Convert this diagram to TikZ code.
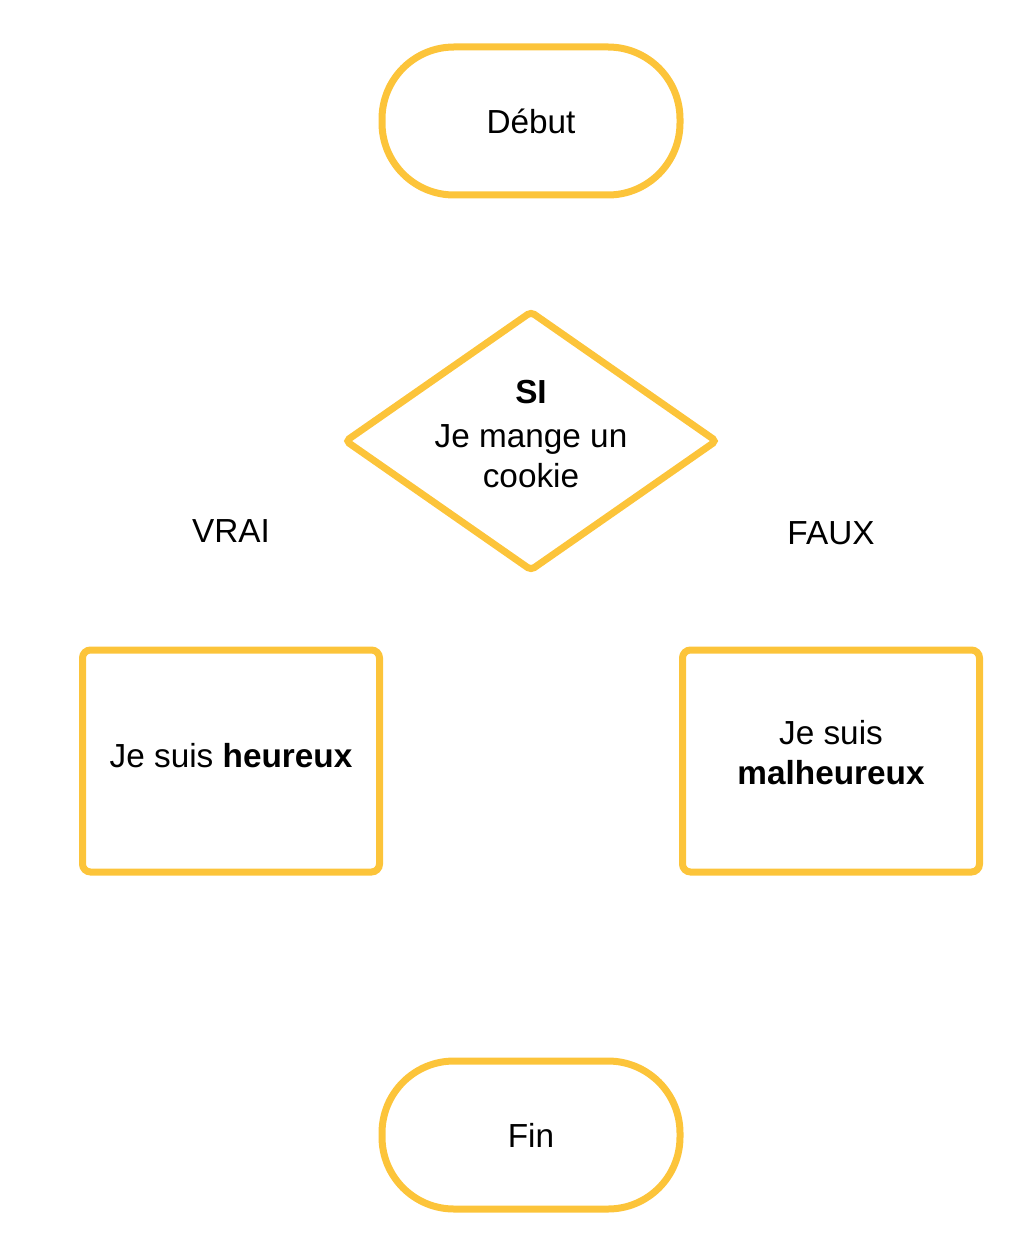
\documentclass[tikz,border=0pt]{standalone}
\usepackage{fontspec}
\setmainfont{Liberation Sans}
\usetikzlibrary{shapes}
\definecolor{cookie}{RGB}{252,196,58}
\tikzstyle{term} = [rectangle, draw=cookie, line width=5.25pt, rounded corners=54pt,
    minimum width=223.5pt, minimum height=111pt, inner sep=0pt]
\tikzstyle{cond} = [diamond, draw=cookie, line width=5.25pt, rounded corners=3pt,
    aspect=1.43, minimum width=279.75pt, minimum height=195.5pt, inner sep=0pt]
\tikzstyle{act} = [rectangle, draw=cookie, line width=5.25pt, rounded corners=6pt,
    minimum width=222.75pt, minimum height=166.5pt, align=center]

\begin{document}
\begin{tikzpicture}[x=0.75pt,y=-0.75pt,node distance=240pt,
                    font=\fontsize{25}{30}\selectfont]
  \useasboundingbox (0,0) rectangle (1035,1251);

  \node[term]  (start) at (531,121)               {Début};
  \node[cond]  (si)      [below of=start]
      {\raisebox{-3.5pt}[0pt][0pt]{\begin{tabular}{@{}c@{}}\textbf{SI}\\[3pt]Je mange un\\cookie\end{tabular}}};
  \node[act]   (heureux) [below of=si,xshift=-225pt] {\raisebox{8pt}{Je suis \textbf{heureux}}};
  \node[act]   (malheur) [below of=si,xshift=225pt]
      {\raisebox{-2.5pt}[0pt][0pt]{\begin{tabular}{@{}c@{}}Je suis\\\textbf{malheureux}\end{tabular}}};
  \node[term]  (fin)     [below of=heureux,xshift=225pt,yshift=-40.5pt] {Fin};

  \node        (vrai)    [above of=heureux,yshift=-67.5pt] {VRAI};
  \node        (faux)    [above of=malheur,yshift=-69pt]   {FAUX};
\end{tikzpicture}
\end{document}
